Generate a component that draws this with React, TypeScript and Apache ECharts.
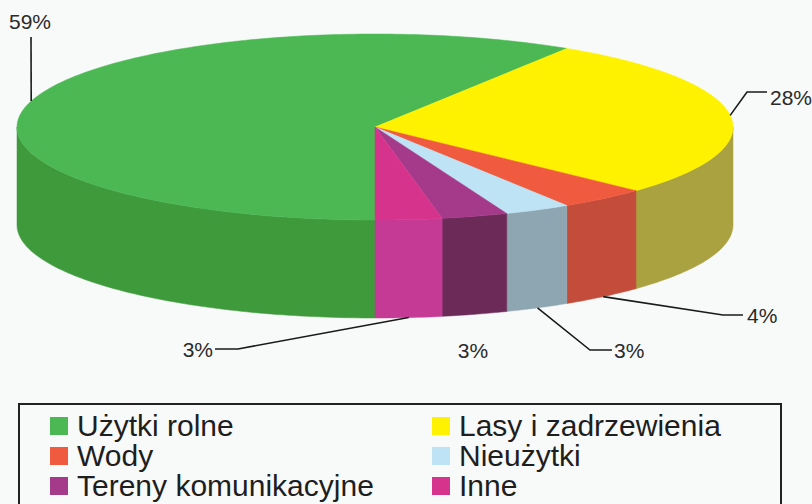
import React, { useEffect, useRef } from "react";
import * as echarts from "echarts";

// ---- data ----
const categories = [
  "Użytki rolne",
  "Lasy i zadrzewienia",
  "Wody",
  "Nieużytki",
  "Tereny komunikacyjne",
  "Inne",
];
const shares = [59, 28, 4, 3, 3, 3];
const labelTexts = ["59%", "28%", "4%", "3%", "3%", "3%"];

// ---- styles / layout ----
const topColors = ["#4cb854", "#fff200", "#f05a3e", "#bee3f4", "#a63a8a", "#d6348c"];
const sideColors = ["#3f9a3c", "#aaa240", "#c44c3a", "#8ea6b2", "#6c2a58", "#c43a94"];
const CX = 375;
const CY = 127;
const RX = 358;
const RY = 93;
const DEPTH = 98;
const START = 180; // degrees clockwise from 12 o'clock

// leader line bends and text positions (label placement)
const labelBends: number[][][] = [
  [[31, 37]],
  [[747, 92], [767, 92]],
  [[723, 315], [743, 315]],
  [[590, 350], [612, 350]],
  [],
  [[238, 349], [215, 349]],
];
const labelPos: [number, number, string][] = [
  [9, 21, "left"],
  [770, 97, "left"],
  [747, 315, "left"],
  [614, 350, "left"],
  [473, 350, "center"],
  [213, 349, "right"],
];

const FONT = "Liberation Sans, Arial, sans-serif";

function pt(theta: number, dy = 0): number[] {
  const r = (theta * Math.PI) / 180;
  return [CX + RX * Math.sin(r), CY - RY * Math.cos(r) + dy];
}

function arc(a0: number, a1: number, dy = 0): number[][] {
  const pts: number[][] = [];
  const n = Math.max(2, Math.ceil(Math.abs(a1 - a0)));
  for (let k = 0; k <= n; k++) pts.push(pt(a0 + ((a1 - a0) * k) / n, dy));
  return pts;
}

export default function App() {
  const ref = useRef<HTMLDivElement>(null);
  useEffect(() => {
    if (!ref.current) return;
    const chart = echarts.init(ref.current, undefined, { renderer: "svg" });
    const total = shares.reduce((a, b) => a + b, 0);
    const starts: number[] = [];
    let acc = START;
    shares.forEach((v) => {
      starts.push(acc);
      acc += (v / total) * 360;
    });

    const renderItem = (params: any) => {
      const i = params.dataIndex;
      const a0 = starts[i];
      const a1 = a0 + (shares[i] / total) * 360;
      const children: any[] = [];
      // visible outer side (front half: 90..270 deg)
      for (const k of [0, 360]) {
        const lo = Math.max(a0, 90 + k);
        const hi = Math.min(a1, 270 + k);
        if (hi > lo) {
          const pts = arc(lo, hi).concat(arc(hi, lo, DEPTH));
          children.push({
            type: "polygon",
            shape: { points: pts },
            style: { fill: sideColors[i], stroke: sideColors[i], lineWidth: 0.5 },
          });
        }
      }
      // top face
      const topPts = [[CX, CY]].concat(arc(a0, a1));
      children.push({
        type: "polygon",
        shape: { points: topPts },
        style: { fill: topColors[i], stroke: topColors[i], lineWidth: 0.5 },
      });
      return { type: "group", children };
    };

    const renderLabel = (params: any) => {
      const i = params.dataIndex;
      const a0 = starts[i];
      const a1 = a0 + (shares[i] / total) * 360;
      const mid = (a0 + a1) / 2;
      const m = ((mid % 360) + 360) % 360;
      const front = m > 90 && m < 270;
      const anchor = pt(mid, front ? DEPTH : 0);
      const children: any[] = [];
      if (labelBends[i].length) {
        children.push({
          type: "polyline",
          shape: { points: [anchor].concat(labelBends[i]) },
          style: { stroke: "#1a1a1a", lineWidth: 1.6, fill: "none" },
        });
      }
      const [tx, ty, al] = labelPos[i];
      children.push({
        type: "text",
        style: {
          text: labelTexts[i],
          x: tx,
          y: ty,
          fill: "#2a2a2a",
          font: `21px ${FONT}`,
          align: al,
          verticalAlign: "middle",
          textAlign: al,
          textVerticalAlign: "middle",
        },
      });
      return { type: "group", children };
    };

    const legendEls: any[] = [
      {
        type: "rect",
        shape: { x: 19, y: 404, width: 762, height: 130 },
        style: { fill: "none", stroke: "#222", lineWidth: 2 },
        z: 10,
      },
    ];
    categories.forEach((c, i) => {
      const col = i % 2;
      const row = Math.floor(i / 2);
      const sx = col ? 432 : 50;
      const cy = 426 + row * 30;
      legendEls.push({
        type: "rect",
        shape: { x: sx, y: cy - 9, width: 18, height: 18 },
        style: { fill: topColors[i] },
        z: 10,
      });
      legendEls.push({
        type: "text",
        x: sx + 27,
        y: cy,
        scaleX: 1.035,
        style: {
          text: c,
          x: 0,
          y: 0,
          fill: "#1e1e1e",
          font: `29px ${FONT}`,
          align: "left",
          verticalAlign: "middle",
          textAlign: "left",
          textVerticalAlign: "middle",
        },
        z: 10,
      });
    });

    chart.setOption({
      animation: false,
      backgroundColor: "#f8f9f9",
      series: [
        {
          type: "custom",
          coordinateSystem: "none",
          renderItem,
          data: shares.map((v, i) => ({ value: v, name: categories[i] })),
          silent: true,
          z: 2,
        },
        {
          type: "custom",
          coordinateSystem: "none",
          renderItem: renderLabel,
          data: shares.map((v, i) => ({ value: v, name: categories[i] })),
          silent: true,
          z: 3,
        },
      ],
      graphic: legendEls,
    });
    return () => chart.dispose();
  }, []);
  return (
    <div
      ref={ref}
      style={{ position: "fixed", left: 0, top: 0, width: 812, height: 504 }}
    />
  );
}
